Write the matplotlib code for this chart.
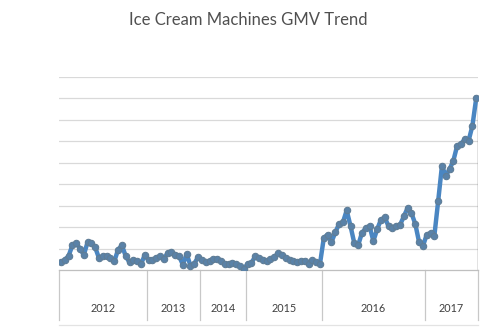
import matplotlib.pyplot as plt
import numpy as np

years = ["2012", "2013", "2014", "2015", "2016", "2017"]
year_counts = [23, 14, 12, 20, 27, 14]

gmv = [
    # 2012
    0.35, 0.48, 0.65, 1.15, 1.25, 1.00, 0.70, 1.30, 1.25, 1.05,
    0.55, 0.65, 0.65, 0.55, 0.40, 0.95, 1.15, 0.65, 0.35, 0.48,
    0.41, 0.27, 0.70,
    # 2013
    0.45, 0.45, 0.58, 0.64, 0.50, 0.80, 0.85, 0.72, 0.65, 0.25,
    0.75, 0.20, 0.30, 0.60,
    # 2014
    0.48, 0.36, 0.42, 0.49, 0.52, 0.42, 0.30, 0.26, 0.34, 0.30,
    0.20, 0.03,
    # 2015
    0.30, 0.33, 0.64, 0.58, 0.48, 0.43, 0.50, 0.60, 0.78, 0.70,
    0.58, 0.46, 0.41, 0.37, 0.42, 0.42, 0.26, 0.47, 0.36, 0.30,
    # 2016
    1.50, 1.65, 1.30, 1.75, 2.15, 2.22, 2.78, 2.05, 1.25, 1.15,
    1.73, 1.95, 2.05, 1.35, 1.90, 2.35, 2.45, 2.03, 1.98, 2.05,
    2.10, 2.50, 2.90, 2.65, 2.15, 1.30, 1.11,
    # 2017
    1.65, 1.72, 1.58, 3.20, 4.86, 4.39, 4.70, 5.10, 5.80, 5.88,
    6.10, 6.03, 6.73, 8.02,
]

n = len(gmv)
x = np.arange(n)

fig = plt.figure(figsize=(4.96, 3.27), dpi=100)
ax = fig.add_axes([0.119, 0.1743, 0.845, 0.5902])

for v in range(1, 10):
    ax.axhline(v, color="#d9d9d9", lw=0.9, zorder=0)

ax.plot(x, gmv, color="#4a86c2", lw=3.2, marker="o", ms=4.6,
        mfc="#5a82a8", mec="#5f7d96", mew=0.8, zorder=3)
ax.vlines(n - 0.5, 0, gmv[-1], color="#707070", lw=1.0, zorder=2)

ax.set_xlim(-0.5, n - 0.5)
ax.set_ylim(0, 9)
ax.set_xticks([])
ax.set_yticks([])
for side in ["top", "right", "left"]:
    ax.spines[side].set_visible(False)
ax.spines["bottom"].set_color("#bfbfbf")
ax.spines["bottom"].set_linewidth(0.9)

# year category band under the axis
trans = ax.get_xaxis_transform()
edges = np.concatenate([[0], np.cumsum(year_counts)]) - 0.5
for e in edges:
    ax.plot([e, e], [0, -0.26], color="#c8c8c8", lw=0.9,
            transform=trans, clip_on=False)
ax.plot([edges[0], edges[-1]], [-0.285, -0.285], color="#e3e3e3", lw=0.9,
        transform=trans, clip_on=False)
for i, yr in enumerate(years):
    ax.text((edges[i] + edges[i + 1]) / 2, -0.2, yr, transform=trans,
            ha="center", va="center", fontsize=7.8, color="#404040",
            family="Lato")

fig.text(0.5, 0.94, "Ice Cream Machines GMV Trend", ha="center", va="center",
         fontsize=12, color="#505050", family="Lato")

fig.savefig("out.png", dpi=100)
